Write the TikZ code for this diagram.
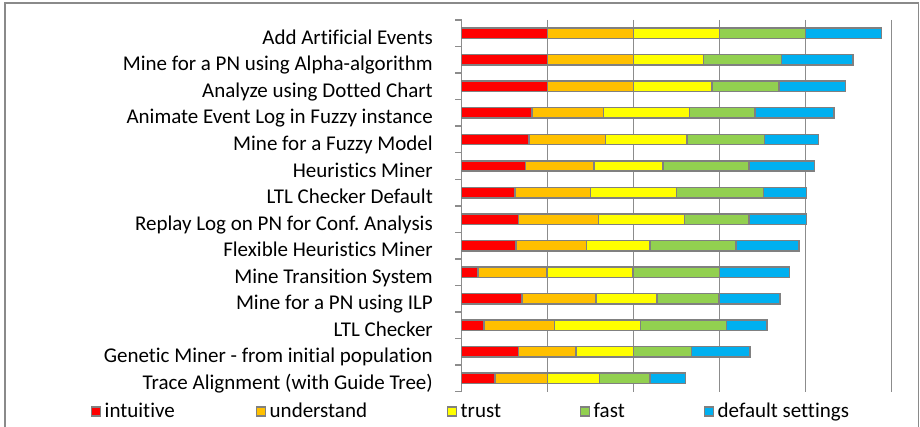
\documentclass[tikz,border=0pt]{standalone}
\usepackage{fontspec}
\setmainfont{Carlito}[RawFeature=-liga]
\frenchspacing
\definecolor{cIntuitive}{HTML}{FF0000}
\definecolor{cUnderstand}{HTML}{FFC000}
\definecolor{cTrust}{HTML}{FFFF00}
\definecolor{cFast}{HTML}{92D050}
\definecolor{cDefault}{HTML}{00B0F0}
\definecolor{edgeGray}{HTML}{808080}
\definecolor{gridGray}{HTML}{8C8C8C}
\definecolor{frameGray}{HTML}{8A8A8A}
\begin{document}
\begin{tikzpicture}[x=1pt,y=-1pt,
  seg/.style={draw=edgeGray, line width=1.5pt},
  gridline/.style={draw=gridGray, line width=1.5pt},
  catlabel/.style={anchor=base east, inner sep=0pt, font=\fontsize{21}{25}\selectfont},
  legtext/.style={anchor=base west, inner sep=0pt, font=\fontsize{21}{25}\selectfont},
  legbox/.style={draw=edgeGray, line width=1.5pt, minimum size=9.4pt, inner sep=0pt}]
\useasboundingbox (0,0) rectangle (920,427);
\fill[white] (0,0) rectangle (920,427);
% outer chart frame (bottom edge lies below the page)
\draw[frameGray, line width=1.6pt] (5,440) -- (5,3) -- (918.5,3) -- (918.5,440);
% value gridlines
\foreach \k in {1,...,5}
  \draw[gridline] ({461.7+86*\k},20) -- ({461.7+86*\k},391.7);
% category axis with tick marks
\draw[gridline] (461.7,20) -- (461.7,391.7);
\foreach \j in {0,...,14}
  \draw[gridline] (455,{20+26.55*\j}) -- (461.7,{20+26.55*\j});
% stacked bars: cumulative ends in grid units
\foreach \i/\lab/\a/\b/\c/\d/\e in {
  1/{Add Artificial Events}/1.00/2.00/3.00/4.00/4.88,
  2/{Mine for a PN using Alpha-algorithm}/1.00/2.00/2.81/3.72/4.55,
  3/{Analyze using Dotted Chart}/1.00/2.00/2.91/3.69/4.46,
  4/{Animate Event Log in Fuzzy instance}/0.82/1.65/2.65/3.41/4.33,
  5/{Mine for a Fuzzy Model}/0.78/1.67/2.62/3.52/4.15,
  6/{Heuristics Miner}/0.74/1.54/2.34/3.34/4.10,
  7/{LTL Checker Default}/0.62/1.50/2.50/3.51/4.01,
  8/{Replay Log on PN for Conf. Analysis}/0.66/1.59/2.59/3.34/4.01,
  9/{Flexible Heuristics Miner}/0.63/1.45/2.19/3.19/3.92,
  10/{Mine Transition System}/0.19/0.99/1.99/3.00/3.81,
  11/{Mine for a PN using ILP}/0.70/1.56/2.27/2.99/3.70,
  12/{LTL Checker}/0.26/1.08/2.08/3.08/3.55,
  13/{Genetic Miner - from initial population}/0.66/1.33/2.00/2.67/3.35,
  14/{Trace Alignment (with Guide Tree)}/0.39/1.00/1.60/2.19/2.60}
{
  \pgfmathsetmacro\yc{20+26.55*(\i-0.5)}
  \node[catlabel] (lab\i) at (433,{\yc+11}) {\lab};
  \draw[seg, fill=cIntuitive]  (461.7,{\yc-5.2}) rectangle ({461.7+86*\a},{\yc+5.2});
  \draw[seg, fill=cUnderstand] ({461.7+86*\a},{\yc-5.2}) rectangle ({461.7+86*\b},{\yc+5.2});
  \draw[seg, fill=cTrust]      ({461.7+86*\b},{\yc-5.2}) rectangle ({461.7+86*\c},{\yc+5.2});
  \draw[seg, fill=cFast]       ({461.7+86*\c},{\yc-5.2}) rectangle ({461.7+86*\d},{\yc+5.2});
  \draw[seg, fill=cDefault]    ({461.7+86*\d},{\yc-5.2}) rectangle ({461.7+86*\e},{\yc+5.2});
}
% legend
\foreach \n/\bx/\col/\txt in {1/96/cIntuitive/intuitive, 2/261/cUnderstand/understand,
    3/452/cTrust/trust, 4/585/cFast/fast, 5/709/cDefault/default settings}
{
  \node[legbox, fill=\col] (key\n) at (\bx,411.5) {};
  \node[legtext] (keylab\n) at ({\bx+8.5},417.5) {\txt};
}
\end{tikzpicture}
\end{document}
